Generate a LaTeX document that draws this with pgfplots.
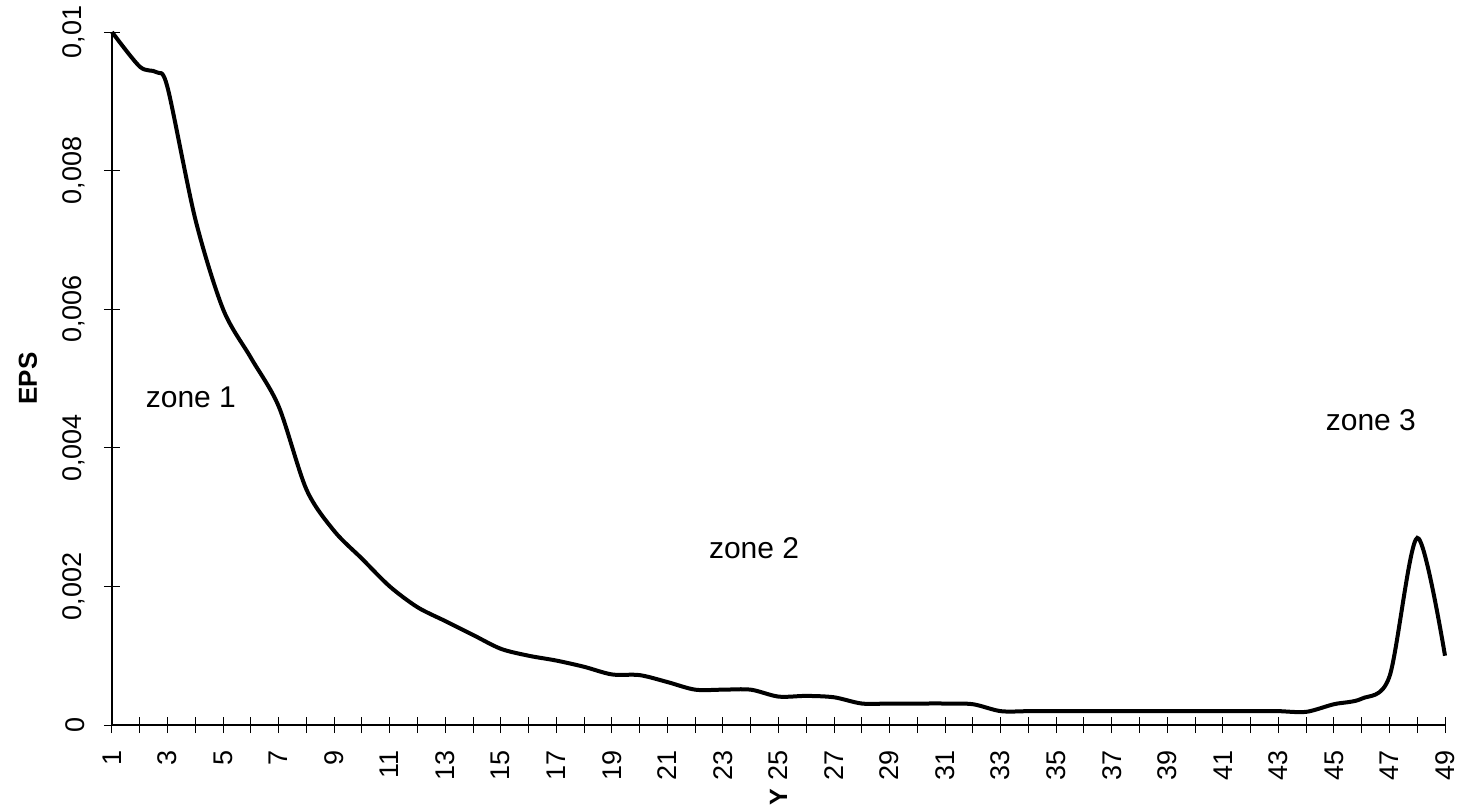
\documentclass[border=0pt]{standalone}
\usepackage{pgfplots}
\pgfplotsset{compat=1.18}
\usepackage{fontspec}
\setmainfont{Liberation Sans}
\begin{document}
\begin{tikzpicture}
\useasboundingbox (-56pt,-40pt) rectangle (673.5pt,362.5pt);
\begin{axis}[
  at={(0,0)}, anchor=south west,
  scale only axis, width=666.5pt, height=346.5pt,
  xmin=1, xmax=49, ymin=0, ymax=0.01,
  axis lines*=left,
  axis line style={line width=0.6pt},
  xtick={1,3,...,49}, minor xtick={2,4,...,48},
  ytick={0,0.002,0.004,0.006,0.008,0.01},
  tick align=center, major tick length=8pt, minor tick length=8pt,
  tick style={black, line width=0.5pt},
  scaled y ticks=false,
  /pgf/number format/assume math mode=true,
  yticklabel style={/pgf/number format/.cd, fixed, use comma, precision=3, assume math mode=true, /tikz/.cd, rotate=90, anchor=south, font=\fontsize{13.5}{15}\selectfont},
  xticklabel style={rotate=90, anchor=east, font=\fontsize{13.5}{15}\selectfont},
  yticklabel shift=6pt, xticklabel shift=5pt,
  xlabel={\textbf{Y}}, ylabel={\textbf{EPS}},
  every axis x label/.style={at={(axis description cs:0.5,-0.104)}, anchor=center, rotate=90, inner sep=0pt, font=\fontsize{12.5}{14}\selectfont},
  every axis y label/.style={at={(axis description cs:-0.063,0.5)}, anchor=center, rotate=90, font=\fontsize{13}{14}\selectfont},
  clip=false,
]
\addplot[black, line width=2pt, smooth, tension=0.5] coordinates {
(1,0.0100) (2,0.00950) (2.6,0.00942) (3,0.0092) (4,0.0073) (5,0.0060) (6,0.0053) (7,0.0046)
(8,0.0034) (9,0.0028) (10,0.0024) (11,0.0020) (12,0.0017) (13,0.0015)
(14,0.0013) (15,0.0011) (16,0.0010) (17,0.00093) (18,0.00084) (19,0.00073)
(20,0.00072) (21,0.00062) (22,0.00051) (23,0.00051) (24,0.00051) (25,0.00041)
(26,0.00042) (27,0.00040) (28,0.00031) (29,0.00031) (30,0.00031) (31,0.00031)
(32,0.00030) (33,0.00020) (34,0.00020) (35,0.00020) (36,0.00020) (37,0.00020)
(38,0.00020) (39,0.00020) (40,0.00020) (41,0.00020) (42,0.00020) (43,0.00020)
(44,0.00019) (45,0.00030) (46,0.00038) (47,0.00070) (48,0.00270) (49,0.00100)
};
\node[font=\fontsize{15}{17}\selectfont] at (axis cs:3.84,0.00473) {zone 1};
\node[font=\fontsize{15}{17}\selectfont] at (axis cs:24.12,0.00255) {zone 2};
\node[font=\fontsize{15}{17}\selectfont] at (axis cs:46.33,0.00440) {zone 3};
\end{axis}
\end{tikzpicture}
\end{document}
